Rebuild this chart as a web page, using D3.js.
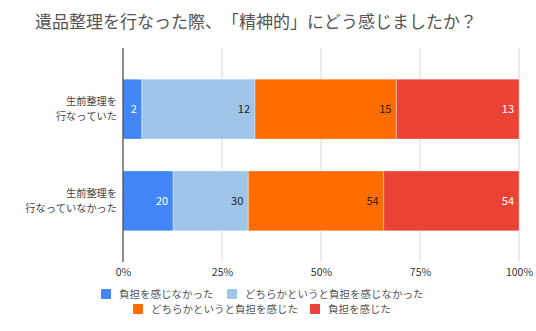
<!DOCTYPE html>
<html><head><meta charset="utf-8">
<script src="https://cdn.jsdelivr.net/npm/d3@7"></script>
<style>
html,body{margin:0;padding:0;background:#fff;}
svg{text-spacing-trim:space-all;}
text{font-family:"Noto Sans CJK JP","Noto Sans",sans-serif;font-kerning:none;text-spacing-trim:space-all;}
</style></head>
<body><svg id="c" width="536" height="331"></svg>
<script>
const title = "遺品整理を行なった際、「精神的」にどう感じましたか？";
const categories = [["生前整理を","行なっていた"],["生前整理を","行なっていなかった"]];
const seriesNames = ["負担を感じなかった","どちらかというと負担を感じなかった","どちらかというと負担を感じた","負担を感じた"];
const seriesColors = ["#4285F4","#9FC5E8","#FF6D01","#EA4335"];
const labelColors = ["#ffffff","#222222","#222222","#ffffff"];
const values = [[2,12,15,13],[20,30,54,54]];
const tickValues = [0,0.25,0.5,0.75,1];

const svg = d3.select("#c");
const x = d3.scaleLinear().domain([0,1]).range([123,519]);
const y = d3.scaleBand().domain([0,1]).range([48,262]).paddingInner(0.348).paddingOuter(0.34);

svg.append("text").attr("x",35).attr("y",28).attr("font-size",17).attr("fill","#555").text(title);

// gridlines
svg.append("g").selectAll("line").data(tickValues.slice(1)).join("line")
  .attr("x1",d=>x(d)).attr("x2",d=>x(d)).attr("y1",48).attr("y2",262)
  .attr("stroke","#d9d9d9").attr("stroke-width",1);

values.forEach((row,i)=>{
  const total = d3.sum(row);
  let acc = 0;
  const g = svg.append("g");
  row.forEach((v,j)=>{
    const x0 = x(acc/total), x1 = x((acc+v)/total);
    g.append("rect").attr("x",x0).attr("y",y(i)).attr("width",x1-x0).attr("height",y.bandwidth())
      .attr("fill",seriesColors[j]).attr("stroke","rgba(255,255,255,0.35)").attr("stroke-width",1);
    g.append("text").attr("x",x1-5).attr("y",y(i)+y.bandwidth()/2).attr("dy","0.35em")
      .attr("text-anchor","end").attr("font-size",11).attr("fill",labelColors[j]).text(v);
    acc += v;
  });
  categories[i].forEach((s,k)=>{
    svg.append("text").attr("text-anchor","end").attr("font-size",10.2).attr("fill","#444")
      .attr("x",117).attr("y",y(i)+y.bandwidth()/2 - 7.5 + k*15).attr("dy","0.35em").text(s);
  });
});

// axis line at 0
svg.append("line").attr("x1",x(0)).attr("x2",x(0)).attr("y1",48).attr("y2",262).attr("stroke","#444").attr("stroke-width",1.2);

const axis = d3.axisBottom(x).tickValues(tickValues).tickFormat(d3.format(".0%")).tickSize(0).tickPadding(0);
const ag = svg.append("g").attr("transform","translate(0,272)").call(axis);
ag.select(".domain").remove();
ag.selectAll("text").attr("font-size",10.5).attr("fill","#333").attr("dy","0.35em")
  .style("font-family",'"Noto Sans CJK JP","Noto Sans",sans-serif');

// legend
const legendPos = [[101,294],[227,294],[133,309],[310,309]];
seriesNames.forEach((n,j)=>{
  const [lx,ly] = legendPos[j];
  svg.append("rect").attr("x",lx).attr("y",ly-5).attr("width",10).attr("height",10).attr("rx",1).attr("fill",seriesColors[j]);
  svg.append("text").attr("x",lx+18).attr("y",ly).attr("dy","0.35em").attr("font-size",10.5).attr("fill","#555").text(n);
});
</script></body></html>
